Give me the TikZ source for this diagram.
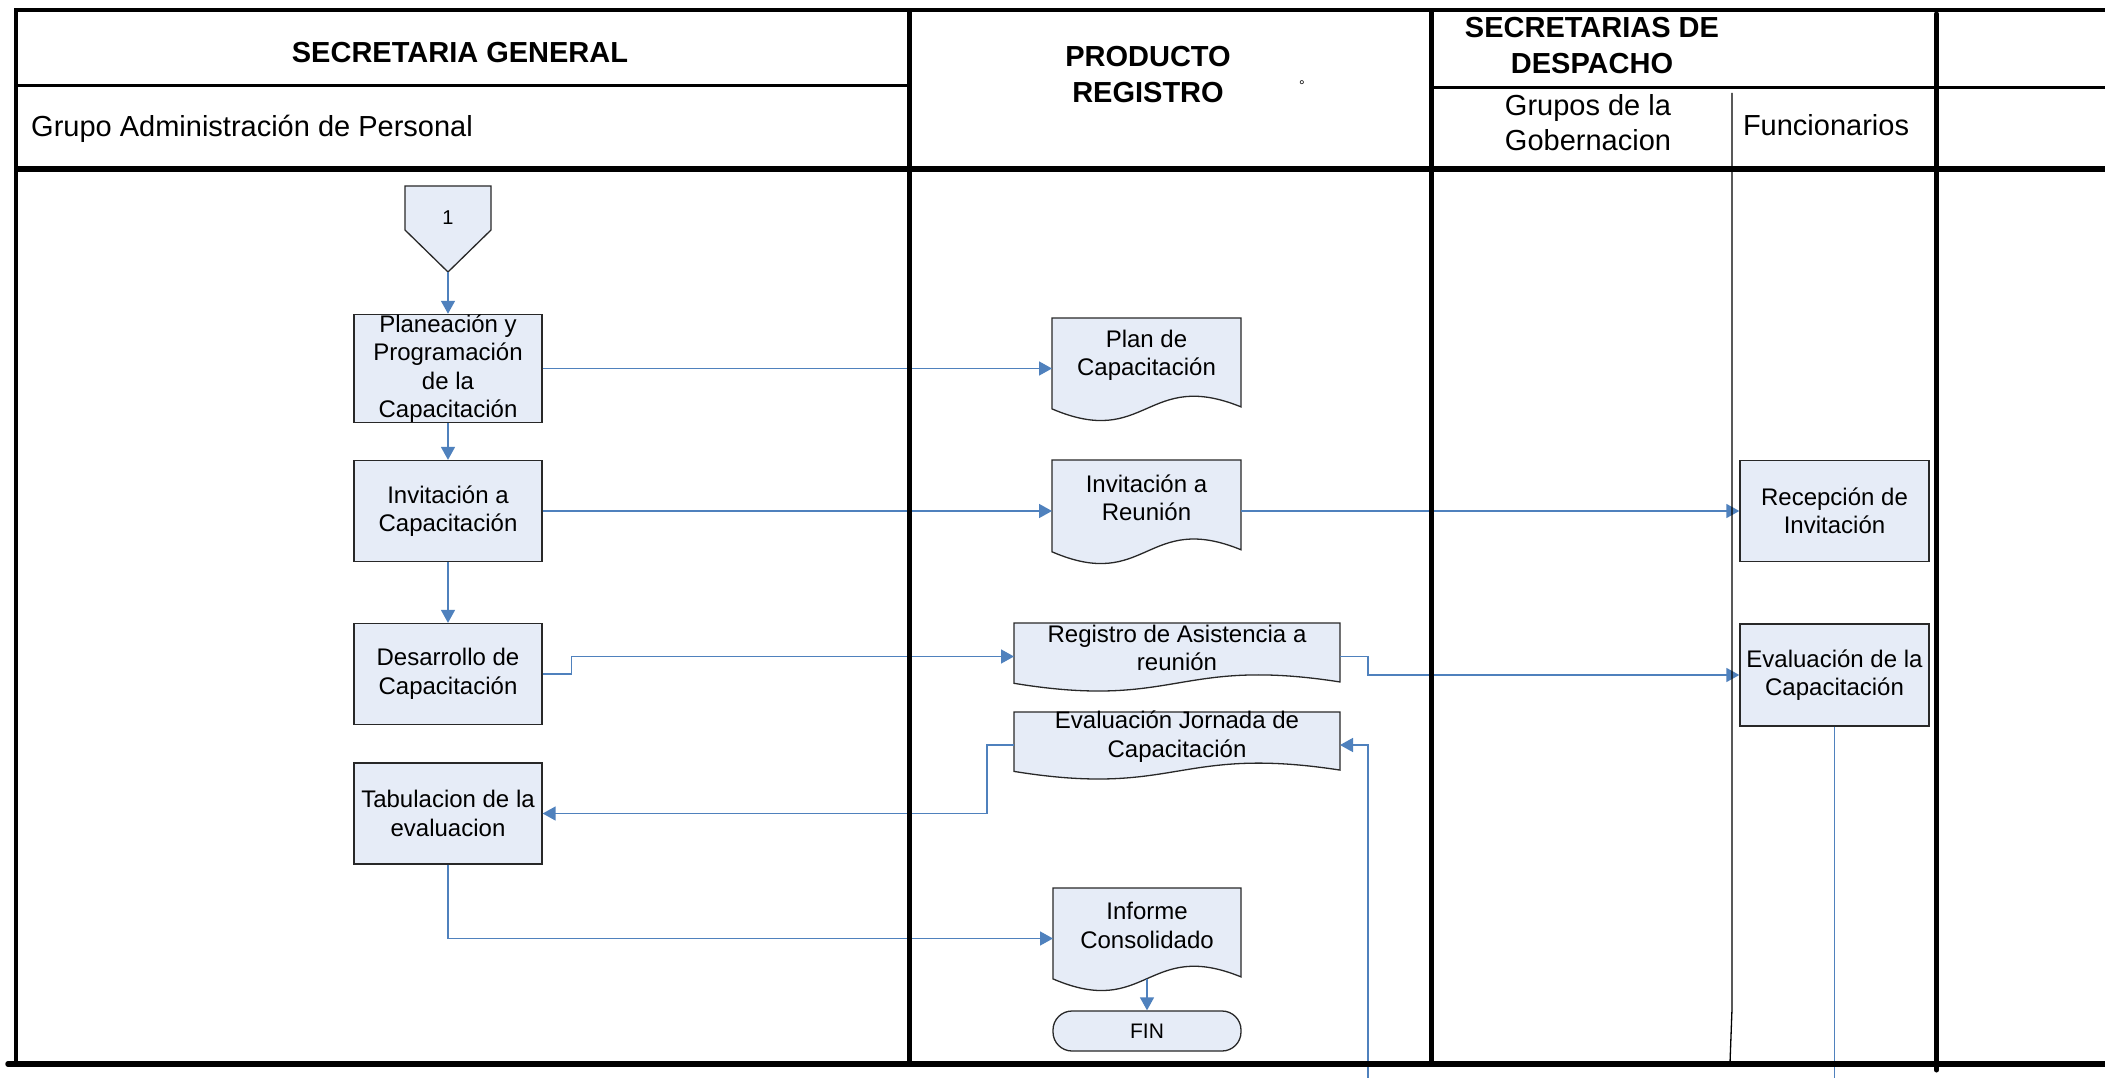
\documentclass[tikz,border=0pt]{standalone}
\usepackage{fontspec}
\setmainfont{Liberation Sans}
\usetikzlibrary{arrows.meta,calc}
\definecolor{boxfill}{RGB}{230,236,247}
\definecolor{flowc}{RGB}{79,129,189}
\definecolor{boxline}{RGB}{40,40,40}
% #1 name, #2 x centre, #3 y top, #4 width, #5 height to trough, #6 text
\newcommand{\docnode}[6]{%
  \filldraw[docshape] ({#2-#4/2},#3) -- ({#2+#4/2},#3) -- ({#2+#4/2},{#3+0.88*#5})
    .. controls (#2,{#3+0.5*#5}) and (#2,{#3+1.3*#5}) .. ({#2-#4/2},{#3+0.9*#5}) -- cycle;
  \node[docbox, minimum width=#4pt, minimum height=#5pt] (#1) at (#2,{#3+#5/2}) {};
  \node[boxtext] (#1-t) at (#2,{#3+0.37*#5}) {#6};
}
\begin{document}
\begin{tikzpicture}[x=1pt,y=-1pt,
  lane/.style={draw=black, line width=#1pt},
  proc/.style={rectangle, draw=boxline, fill=boxfill, line width=1.3pt, minimum width=188pt, minimum height=101pt, inner sep=0pt, align=center, font=\fontsize{24}{28.5}\selectfont},
  docshape/.style={draw=boxline, fill=boxfill, line width=1.3pt},
  docbox/.style={rectangle, draw=none, inner sep=0pt, outer sep=0pt},
  boxtext/.style={align=center, inner sep=0pt, font=\fontsize{24}{28.5}\selectfont},
  flow/.style={draw=flowc, line width=1.5pt},
  arr/.style={flow, -{Triangle[length=13pt,width=14pt]}},
  headb/.style={font=\bfseries\fontsize{29}{36}\selectfont, align=center, inner sep=0pt},
  headr/.style={font=\fontsize{29}{35}\selectfont, align=center, inner sep=0pt},
]
\useasboundingbox (0,0) rectangle (2105,1078);
\fill[white] (0,0) rectangle (2105,1078);

% header texts
\node[headb] (h1) at (460,53) {SECRETARIA GENERAL};
\node[headr, anchor=west] (h2) at (31,129) {Grupo Administración de Personal};
\node[headb] (h3) at (1148,74.5) {PRODUCTO\\REGISTRO};
\node[font=\fontsize{14}{14}\selectfont, inner sep=0pt] (deg) at (1302,86) {°};
\node[headb] (h4) at (1592,45.5) {SECRETARIAS DE\\DESPACHO};
\node[headr] (h5) at (1588,122.5) {Grupos de la\\Gobernacion};
\node[headr] (h6) at (1826,125) {Funcionarios};

% off-page connector
\filldraw[docshape] (405,186) -- (491,186) -- (491,230) -- (448,272) -- (405,230) -- cycle;
\node[font=\fontsize{20}{24}\selectfont, inner sep=0pt] (c1) at (448,218) {1};
\coordinate (c1tip) at (448,272);

% process boxes
\node[proc] (plan1) at (448,368.5) {Planeación y\\Programación\\de la\\Capacitación};
\node[proc] (invit) at (448,511) {Invitación a\\Capacitación};
\node[proc] (desarr) at (448,674) {Desarrollo de\\Capacitación};
\node[proc] (tabul) at (448,813.5) {Tabulacion de la\\evaluacion};
\node[proc, minimum width=189pt] (recep) at (1834.5,511) {Recepción de\\Invitación};
\node[proc, minimum width=189pt, minimum height=102pt] (evalcap) at (1834.5,675) {Evaluación de la\\Capacitación};

% documents
\docnode{plandoc}{1146.5}{318}{189}{101}{Plan de\\Capacitación}
\docnode{reunion}{1146.5}{460}{189}{102}{Invitación a\\Reunión}
\docnode{registro}{1177}{623}{326}{67}{Registro de Asistencia a\\reunión}
\docnode{evaljor}{1177}{712}{326}{66}{Evaluación Jornada de\\Capacitación}
\docnode{informe}{1147}{888}{188}{101}{Informe\\Consolidado}

\node[proc, rounded corners=19pt, minimum height=40pt, font=\fontsize{21}{24}\selectfont] (fin) at (1147,1031) {FIN};

% connectors
\coordinate (bot1) at (1368,1078);
\coordinate (bot2) at (1834.5,1078);
\draw[arr] (c1tip) -- (plan1.north);
\draw[arr] (plan1.south) -- (invit.north);
\draw[arr] (invit.south) -- (desarr.north);
\draw[arr] (plan1.east) -- (plandoc.west);
\draw[arr] (invit.east) -- (reunion.west);
\draw[arr] (reunion.east) -- (recep.west);
\draw[arr] (desarr.east) -- ++(29,0) |- (registro.west);
\draw[arr] (registro.east) -- ++(28,0) |- (evalcap.west);
\draw[arr] (evaljor.west) -- ++(-27,0) |- (tabul.east);
\draw[arr] (bot1) |- (evaljor.east);
\draw[flow] (evalcap.south) -- (bot2);
\draw[arr] (tabul.south) |- (informe.west);
\draw[arr] ($(informe.south)+(0,-10)$) -- (fin.north);

% swimlane frame
\draw[lane=4] (14,10.5) -- (2105,10.5);
\draw[lane=4.5] (16,8.5) -- (16,1064);
\draw[lane=3] (14,85.5) -- (912,85.5);
\draw[lane=3] (1432,87.5) -- (2105,87.5);
\draw[lane=5.5] (14,169) -- (2105,169);
\draw[lane=5] (909,8.5) -- (909,1064);
\draw[lane=5] (1431.5,8.5) -- (1431.5,1064);
\draw[lane=1.3] (1732,93) -- (1732,1009) -- (1730,1063);
\draw[lane=5, line cap=round] (1936.5,14) -- (1936.5,1070);
\draw[lane=5.5, line cap=round] (8,1064) -- (2105,1064);
\end{tikzpicture}
\end{document}
